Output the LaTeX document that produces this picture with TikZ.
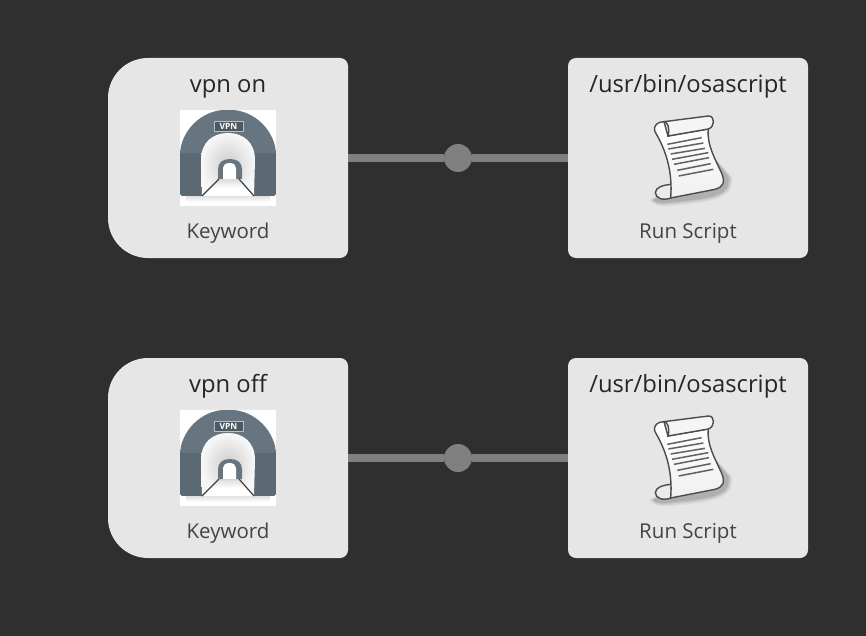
\documentclass[tikz,border=0pt]{standalone}
\usepackage{fontspec}
\setmainfont{Open Sans}
\definecolor{bgc}{HTML}{2F2F2F}
\definecolor{cardc}{HTML}{E6E6E6}
\definecolor{linkc}{HTML}{808080}
\definecolor{titlec}{HTML}{262626}
\definecolor{subc}{HTML}{444444}
\definecolor{archc}{HTML}{66757F}
\definecolor{archd}{HTML}{5B6973}
\tikzset{
  cardbox/.style={minimum width=240pt,minimum height=200pt,inner sep=0pt,outer sep=0pt},
  scriptcard/.style={cardbox,fill=cardc,rounded corners=8pt},
  linkline/.style={draw=linkc,line width=8pt},
  dotnode/.style={circle,fill=linkc,minimum size=28pt,inner sep=0pt,outer sep=0pt},
  titletext/.style={font=\fontsize{23.8}{26}\selectfont,text=titlec,inner sep=0pt,anchor=base},
  subtext/.style={font=\fontsize{20.5}{22}\selectfont,text=subc,inner sep=0pt,anchor=base},
  scrollrule/.style={draw=black!62,line width=1.5pt}
}
\newcommand{\keywordshape}[1]{%
  \fill[cardc] (#1.east) [rounded corners=8pt] -- (#1.south east)
    [rounded corners=40pt] -- (#1.south west) -- (#1.north west)
    [rounded corners=8pt] -- (#1.north east) -- cycle;}
\newcommand{\vpnicon}[2]{%
\begin{scope}[shift={(#1,#2)}]
  \fill[white] (0,0) rectangle (96,96);
  \shade[bottom color=white,top color=black!12] (6,86) rectangle (90,92);
  % arch (side panels are darker)
  \begin{scope}
    \clip[rounded corners=3pt] (0,86) -- (0,48) .. controls (0,21.5) and (21.5,0) .. (48,0)
       .. controls (74.5,0) and (96,21.5) .. (96,48) -- (96,86) -- cycle;
    \fill[archc] (0,0) rectangle (96,86);
    \fill[archd] (0,43) rectangle (96,86);
  \end{scope}
  % opening
  \shade[inner color=black!20,outer color=black!3]
    (22,86) -- (21,50) .. controls (21,32) and (33,23) .. (48,23) .. controls (63,23) and (75,32) .. (75,50) -- (74,86) -- cycle;
  % floor
  \fill[white] (22,86) -- (38,69) -- (60,69) -- (74,86) -- cycle;
  \shade[top color=black!14,bottom color=white] (38,69) -- (60,69) -- (67,78) -- (30,78) -- cycle;
  \draw[black!75,line width=1.2pt] (22,86) -- (39,69);
  \draw[black!75,line width=1.2pt] (74,86) -- (59,69);
  % small arch
  \fill[archc] (38,69) -- (38,59) .. controls (38,52.5) and (43,49) .. (50,49)
    .. controls (57,49) and (62,52.5) .. (62,59) -- (62,69) -- cycle;
  \fill[white] (43,69) -- (43,58) .. controls (43,55) and (45.5,53) .. (49.5,53)
    .. controls (53.5,53) and (56,55) .. (56,58) -- (56,69) -- cycle;
  % label
  \fill[archd!85!black,draw=white!55!archc,line width=.5pt] (34,11) rectangle (63,21);
  \node[inner sep=0pt,text=white,font=\fontsize{8.5}{9}\bfseries\selectfont] at (48.5,16) {VPN};
\end{scope}}
\newcommand{\scrollicon}[2]{%
\begin{scope}[shift={(#1,#2)},x=0.3333pt,y=-0.3333pt]
  % soft shadow
  \foreach \g/\o in {14/.05,10/.06,6/.07,3/.08}{
    \fill[black,opacity=\o] (215,150) -- (262+\g,215) .. controls (268+\g,262+\g) and (240,275+\g) .. (100,288+\g)
      .. controls (70,292+\g) and (46,292+\g) .. (42-\g,285) -- (95,250) -- cycle;}
  % bottom roll
  \fill[white!92!black,draw=black!70,line width=1.4pt]
    (95,238) .. controls (70,240) and (48,246) .. (46,262) .. controls (45,280) and (70,288) .. (92,279) -- cycle;
  % body
  \shade[top color=white,bottom color=black!6,draw=black!70,line width=1.4pt]
    (45,80) .. controls (65,115) and (100,180) .. (92,279)
    -- (225,253) .. controls (250,246) and (256,232) .. (245,205)
    .. controls (225,160) and (200,120) .. (205,72)
    -- (84,93) -- (72,50) .. controls (55,50) and (38,60) .. (45,80) -- cycle;
  % top roll
  \fill[white!96!black,draw=black!70,line width=1.4pt]
    (72,50) -- (205,33) .. controls (225,32) and (226,65) .. (205,72) -- (84,93)
    .. controls (90,70) and (84,52) .. (72,50) -- cycle;
  % text rules
  \foreach \ya/\xa/\yb/\xb in {
    118/82/98/185, 132/85/114/190, 147/92/130/195, 163/96/143/205,
    178/102/158/207, 196/112/176/212, 213/116/193/220}{
    \draw[scrollrule] (\xa,\ya) -- (\xb,\yb);}
\end{scope}}
\begin{document}
\begin{tikzpicture}[x=1pt,y=-1pt]
  \useasboundingbox (0,0) rectangle (866,636);
  \fill[bgc] (0,0) rectangle (866,636);
  % row 1
  \node[cardbox] (k1) at (228,158) {};
  \keywordshape{k1}
  \node[scriptcard] (r1) at (688,158) {};
  \node[dotnode] (d1) at (458,158) {};
  \draw[linkline] (k1) -- (d1);
  \draw[linkline] (d1) -- (r1);
  \node[titletext] (kt1) at (228,92.5) {vpn on};
  \vpnicon{180}{110}
  \node[subtext] (ks1) at (228,238.5) {Keyword};
  \node[titletext] (rt1) at (688,92.5) {/usr/bin/osascript};
  \scrollicon{640}{105}
  \node[subtext] (rs1) at (688,238.5) {Run Script};
  % row 2
  \node[cardbox] (k2) at (228,458) {};
  \keywordshape{k2}
  \node[scriptcard] (r2) at (688,458) {};
  \node[dotnode] (d2) at (458,458) {};
  \draw[linkline] (k2) -- (d2);
  \draw[linkline] (d2) -- (r2);
  \node[titletext] (kt2) at (228,392.5) {vpn off};
  \vpnicon{180}{410}
  \node[subtext] (ks2) at (228,538.5) {Keyword};
  \node[titletext] (rt2) at (688,392.5) {/usr/bin/osascript};
  \scrollicon{640}{405}
  \node[subtext] (rs2) at (688,538.5) {Run Script};
\end{tikzpicture}
\end{document}
